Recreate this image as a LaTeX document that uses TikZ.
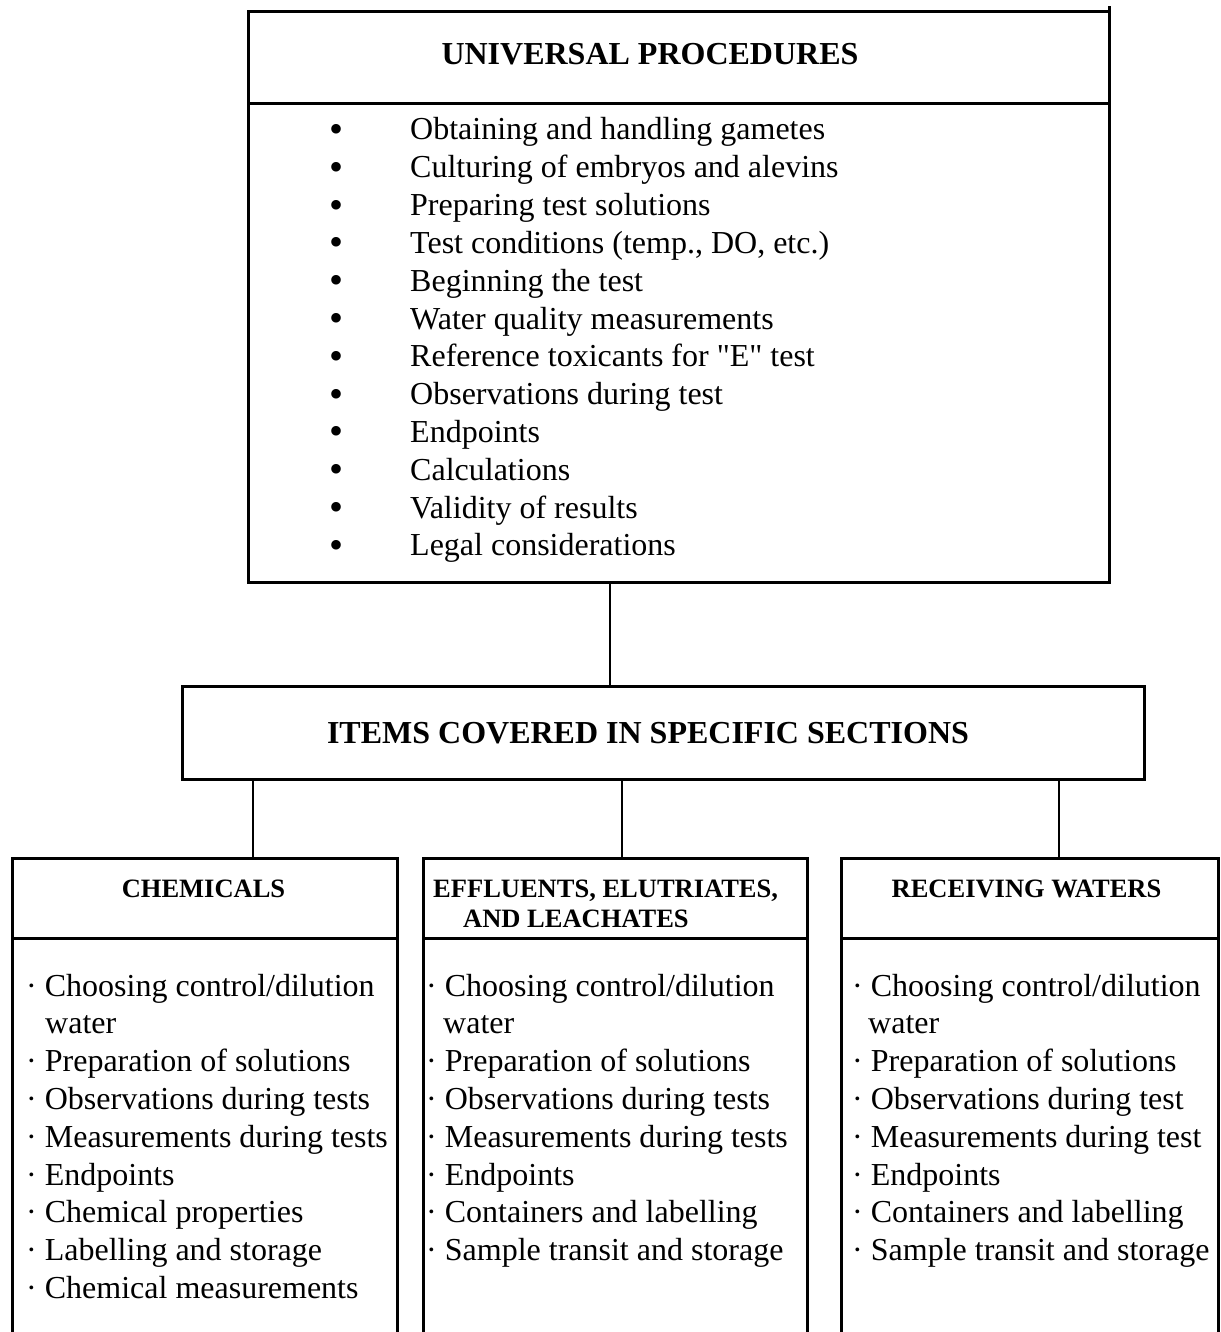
\documentclass[tikz,border=0pt]{standalone}
\usepackage{fontspec}
\setmainfont{Liberation Serif}[Ligatures=TeXOff]
\usetikzlibrary{positioning}

\begin{document}
\begin{tikzpicture}[x=1pt, y=-1pt,
  box/.style={draw, line width=3pt, inner sep=0pt, outer sep=0pt},
  link/.style={line width=2.5pt},
  item/.style={anchor=base west, inner sep=0pt, font=\fontsize{32}{38}\selectfont},
  title/.style={anchor=base, inner sep=0pt, font=\fontsize{32}{38}\selectfont\bfseries},
  head/.style={anchor=base, inner sep=0pt, font=\fontsize{26.5}{30}\selectfont\bfseries}]

\useasboundingbox (0,0) rectangle (1220,1332);

% Universal procedures
\node[box, minimum width=861pt, minimum height=92pt] (univ) at (678.5,58) {};
\node[box, minimum width=861pt, minimum height=478pt, below=0pt of univ] (univlist) {};
\draw[line width=3pt] (univ.north east) -- ++(0,-6);
\node[title] (univtitle) at (650,65) {UNIVERSAL PROCEDURES};
\foreach \t [count=\i] in {Obtaining and handling gametes, Culturing of embryos and alevins,
    Preparing test solutions, {Test conditions (temp., DO, etc.)}, Beginning the test,
    Water quality measurements, Reference toxicants for "E" test,
    Observations during test, Endpoints, Calculations, Validity of results, Legal considerations}
  \node[item] (proc\i) at (329.5,{140+37.8*(\i-1)})
    {\makebox[80.5pt][l]{\raisebox{-2.5pt}{\fontsize{40}{38}\selectfont•}}\t};

% Specific sections
\node[box, minimum width=962pt, minimum height=93pt] (items) at (663,732.5) {};
\node[title] (itemstitle) at (648,743) {ITEMS COVERED IN SPECIFIC SECTIONS};
\draw[link] (610,0 |- univlist.south) -- (610,0 |- items.north);

% Chemicals
\node[box, minimum width=385pt, minimum height=80pt] (chem) at (204.5,898) {};
\node[head] (chemtitle) at (203.5,897) {CHEMICALS};
\foreach \t [count=\i] in {· Choosing control/dilution, \hspace{19pt}water,
    · Preparation of solutions, · Observations during tests, · Measurements during tests,
    · Endpoints, · Chemical properties, · Labelling and storage, · Chemical measurements}
  \node[item] (chem\i) at (26,{996+37.8*(\i-1)}) {\t};

% Effluents
\node[box, minimum width=384pt, minimum height=80pt] (effl) at (615,898) {};
\node[head, anchor=base west] (effltitle) at (433,897) {EFFLUENTS, ELUTRIATES,};
\node[head, anchor=base west] (effltitle2) at (463,927) {AND LEACHATES};
\foreach \t [count=\i] in {· Choosing control/dilution, \hspace{17pt}water,
    · Preparation of solutions, · Observations during tests, · Measurements during tests,
    · Endpoints, · Containers and labelling, · Sample transit and storage}
  \node[item] (effl\i) at (426,{996+37.8*(\i-1)}) {\t};

% Receiving waters
\node[box, minimum width=377pt, minimum height=80pt] (recv) at (1029.5,898) {};
\node[head] (recvtitle) at (1026.5,897) {RECEIVING WATERS};
\foreach \t [count=\i] in {· Choosing control/dilution, \hspace{16pt}water,
    · Preparation of solutions, · Observations during test, · Measurements during test,
    · Endpoints, · Containers and labelling, · Sample transit and storage}
  \node[item] (recv\i) at (852,{996+37.8*(\i-1)}) {\t};

% open sides of the lower boxes
\foreach \b in {chem, effl, recv} {
  \draw[line width=3pt] (\b.south west) -- ++(0,400);
  \draw[line width=3pt] (\b.south east) -- ++(0,400);
}

% links down
\draw[link] (253,0 |- items.south) -- (253,0 |- chem.north);
\draw[link] (622,0 |- items.south) -- (622,0 |- effl.north);
\draw[link] (1059,0 |- items.south) -- (1059,0 |- recv.north);

\end{tikzpicture}
\end{document}
